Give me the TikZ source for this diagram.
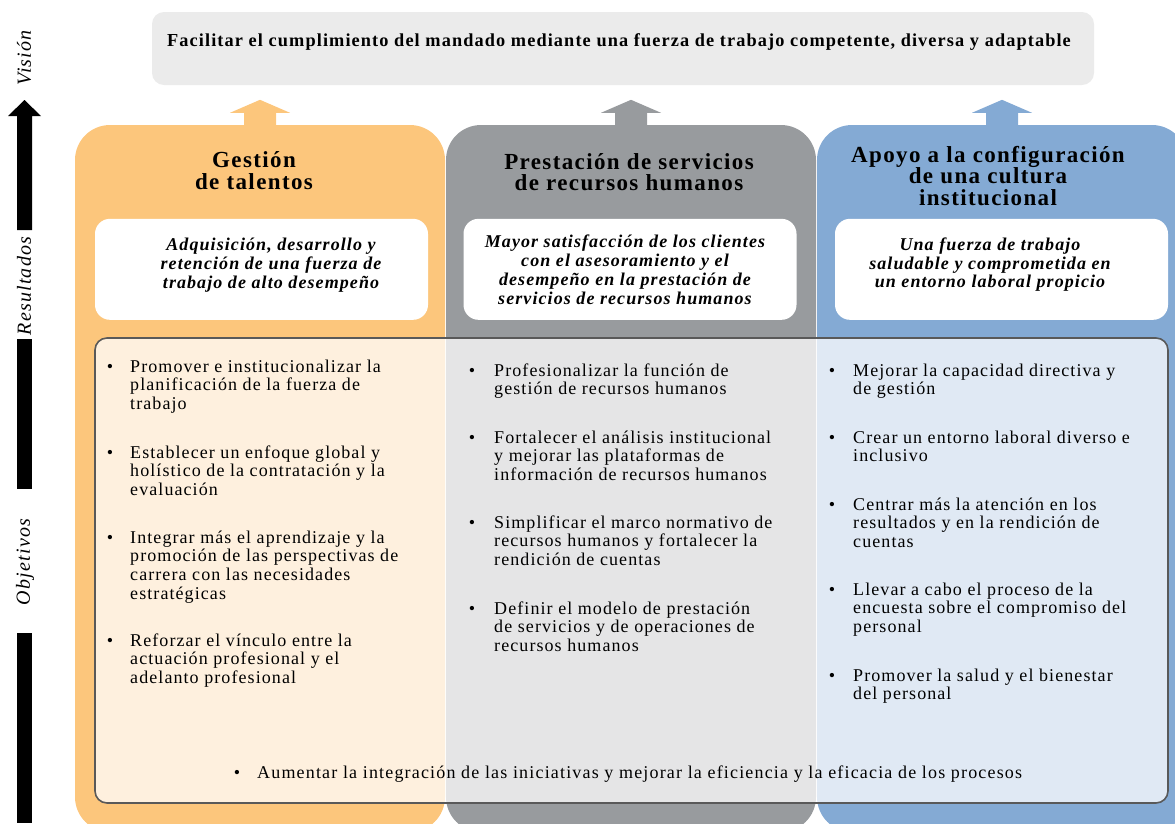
\documentclass[tikz,border=0pt]{standalone}
\usepackage{fontspec}
\setmainfont[LetterSpace=6]{Liberation Serif}
\usetikzlibrary{calc}
\definecolor{talento}{HTML}{FCC67C}
\definecolor{servicio}{HTML}{989B9E}
\definecolor{cultura}{HTML}{84AAD4}
\definecolor{vision}{HTML}{EBEBEB}
\definecolor{marco}{HTML}{595959}
\def\colnode{\node[colbox]}
\def\bulnode{\node[bul]}
% lines of one objective, the node's base is the first line
\def\lines#1{\begin{tabular}[t]{@{}l@{}}#1\end{tabular}}
% block arrow from the top of a pillar towards the vision box
\def\upblock#1#2{\fill[#2] ($(#1.north)+(-16,2)$) -- ++(0,-14) -- ++(-14,0) -- ++(30,-13) -- ++(30,13) -- ++(-14,0) -- ++(0,14) -- cycle;}

\begin{document}
\begin{tikzpicture}[x=1pt,y=-1pt,
  colbox/.style={rounded corners=35pt,minimum width=370pt,minimum height=707pt,inner sep=0pt},
  visbox/.style={fill=vision,rounded corners=12pt,minimum width=942pt,minimum height=73pt,inner sep=0pt},
  vistext/.style={font=\fontsize{18.3}{20}\selectfont\bfseries},
  coltitle/.style={align=center,font=\fontsize{23}{21.5}\selectfont\bfseries},
  resbox/.style={fill=white,rounded corners=15pt,minimum width=333pt,minimum height=101pt,inner sep=0pt},
  restext/.style={align=center,font=\fontsize{18}{18.7}\selectfont\bfseries\itshape},
  objbox/.style={fill=white,fill opacity=.75,draw=marco,line width=1.6pt,rounded corners=12pt,
    minimum width=1073pt,minimum height=465pt,inner sep=0pt},
  item/.style={anchor=base west,inner sep=0pt,font=\fontsize{18}{18.7}\selectfont},
  bul/.style={anchor=base,inner sep=0pt,font=\fontsize{18}{18.7}\selectfont},
  side/.style={rotate=90,inner sep=0pt,font=\fontsize{20}{20}\selectfont\itshape}]
\clip (0,0) rectangle (1175,823);

% -------- vision ---------
\node[visbox] (vis) at (623,48.5) {};
\node[vistext] (vist) at ($(vis)+(-4,-6.5)$) {Facilitar el cumplimiento del mandado mediante una fuerza de trabajo competente, diversa y adaptable};

% -------- the three pillars ---------
\colnode[fill=talento] (gest) at (260,478.5) {};
\colnode[fill=servicio] (serv) at (631,478.5) {};
\colnode[fill=cultura] (cult) at (1002,478.5) {};
\upblock{gest}{talento}
\upblock{serv}{servicio}
\upblock{cult}{cultura}

\node[coltitle] (gest-t) at ($(gest.north)+(-6,46)$) {Gestión\\de talentos};
\node[coltitle] (serv-t) at ($(serv.north)+(-2,47.5)$) {Prestación de servicios\\de recursos humanos};
\node[coltitle] (cult-t) at ($(cult.north)+(-14,51)$) {Apoyo a la configuración\\de una cultura\\institucional};

% results, one white box per pillar
\node[resbox] (gest-r) at ($(gest.north)+(1.5,144.5)$) {};
\node[resbox] (serv-r) at ($(serv.north)+(-1,144.5)$) {};
\node[resbox] (cult-r) at ($(cult.north)+(-0.5,144.5)$) {};
\node[restext] (gest-rt) at ($(gest-r)+(9.5,-4)$) {Adquisición, desarrollo y\\retención de una fuerza de\\trabajo de alto desempeño};
\node[restext] (serv-rt) at ($(serv-r)+(-5,0.5)$) {Mayor satisfacción de los clientes\\con el asesoramiento y el\\desempeño en la prestación de\\servicios de recursos humanos};
\node[restext] (cult-rt) at ($(cult-r)+(-11.5,-4.5)$) {Una fuerza de trabajo\\saludable y comprometida en\\un entorno laboral propicio};

% -------- objectives, laid over the pillars ---------
\node[objbox] (obj) at (631.5,570.5) {};

\foreach \y/\t in {366/{Promover e institucionalizar la\\planificación de la fuerza de\\trabajo},
  452/{Establecer un enfoque global y\\holístico de la contratación y la\\evaluación},
  537/{Integrar más el aprendizaje y la\\promoción de las perspectivas de\\carrera con las necesidades\\estratégicas},
  640/{Reforzar el vínculo entre la\\actuación profesional y el\\adelanto profesional}}{
  \bulnode (gb\y) at (110,\y+6) {\textbullet};
  \node[item] (gi\y) at (130,\y+6) {\lines{\t}};
}
\foreach \y/\t in {370/{Profesionalizar la función de\\gestión de recursos humanos},
  437/{Fortalecer el análisis institucional\\y mejorar las plataformas de\\información de recursos humanos},
  522/{Simplificar el marco normativo de\\recursos humanos y fortalecer la\\rendición de cuentas},
  608/{Definir el modelo de prestación\\de servicios y de operaciones de\\recursos humanos}}{
  \bulnode (sb\y) at (472,\y+6) {\textbullet};
  \node[item] (si\y) at (494,\y+6) {\lines{\t}};
}
\foreach \y/\t in {370/{Mejorar la capacidad directiva y\\de gestión},
  437/{Crear un entorno laboral diverso e\\inclusivo},
  504/{Centrar más la atención en los\\resultados y en la rendición de\\cuentas},
  589/{Llevar a cabo el proceso de la\\encuesta sobre el compromiso del\\personal},
  675/{Promover la salud y el bienestar\\del personal}}{
  \bulnode (cb\y) at (832,\y+6) {\textbullet};
  \node[item] (ci\y) at (853,\y+6) {\lines{\t}};
}
\bulnode (allb) at (237,778) {\textbullet};
\node[item] (alli) at (257,778) {\addfontfeatures{LetterSpace=6.5}Aumentar la integración de las iniciativas y mejorar la eficiencia y la eficacia de los procesos};

% -------- the axis on the left ---------
\fill (17,230) -- (17,116) -- (8,116) -- (24.5,100) -- (41,116) -- (32,116) -- (32,230) -- cycle;
\fill (17,339) rectangle (32,489);
\fill (17,633) rectangle (32,823);
\node[side] (lvis) at (24,58) {Visión};
\node[side] (lres) at (24,286) {Resultados};
\node[side] (lobj) at (25,562) {Objetivos};
\end{tikzpicture}
\end{document}
